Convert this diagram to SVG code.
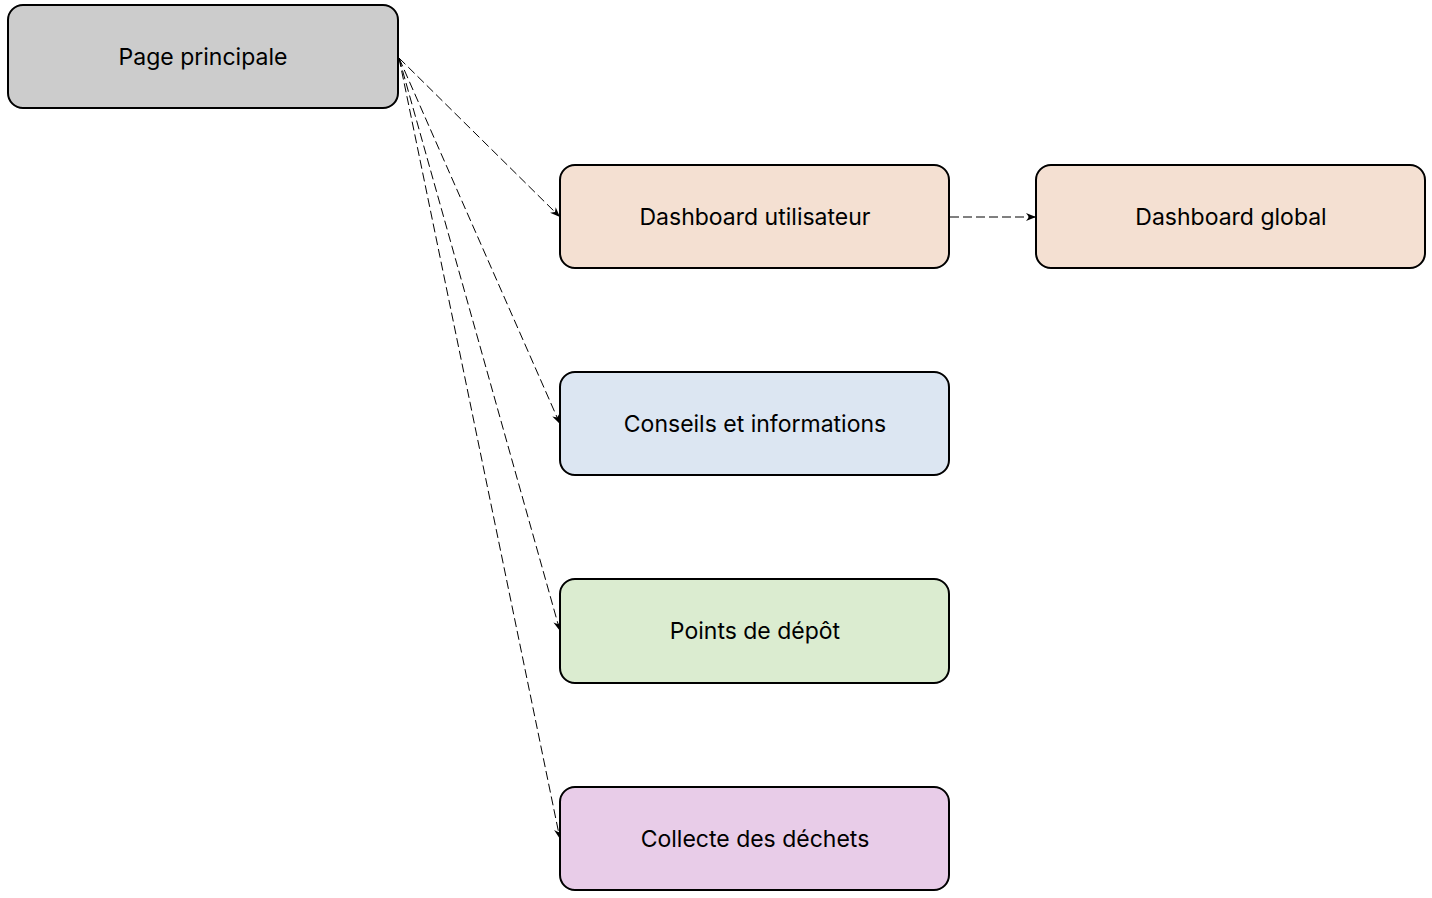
<svg xmlns="http://www.w3.org/2000/svg" width="1432" height="898" viewBox="0 0 1432 898">
<style>
.box{stroke:#000;stroke-width:2}
.lbl{font-family:Inter,"Noto Sans","Liberation Sans",sans-serif;font-size:23px;fill:#000;text-anchor:middle;dominant-baseline:central}
.edge{fill:none;stroke:#000;stroke-width:1;stroke-dasharray:9,4}
</style>
<defs>
<marker id="arr" viewBox="0 0 10 10" refX="10" refY="5" markerWidth="10" markerHeight="10" markerUnits="userSpaceOnUse" orient="auto">
<path d="M0,1 L10,5 L0,9 L3,5 Z" fill="#000"/>
</marker>
</defs>
<rect width="1432" height="898" fill="#fff"/>
<g id="connectors">
<path class="edge" d="M399,58 L560,217" marker-end="url(#arr)"/>
<path class="edge" d="M399,58 L560,424" marker-end="url(#arr)"/>
<path class="edge" d="M399,58 L560,631" marker-end="url(#arr)"/>
<path class="edge" d="M399,58 L560,839" marker-end="url(#arr)"/>
<path class="edge" d="M950,217 L1036,217" marker-end="url(#arr)"/>
</g>
<g id="node-page">
<rect class="box" x="8" y="5" width="390" height="103" rx="15" fill="#cccccc"/>
<text class="lbl" x="203" y="57">Page principale</text>
</g>
<g id="node-dash-user">
<rect class="box" x="560" y="165" width="389" height="103" rx="15" fill="#f4e0d2"/>
<text class="lbl" x="755" y="217">Dashboard utilisateur</text>
</g>
<g id="node-dash-global">
<rect class="box" x="1036" y="165" width="389" height="103" rx="15" fill="#f4e0d2"/>
<text class="lbl" x="1231" y="217">Dashboard global</text>
</g>
<g id="node-conseils">
<rect class="box" x="560" y="372" width="389" height="103" rx="15" fill="#dce6f2"/>
<text class="lbl" x="755" y="424">Conseils et informations</text>
</g>
<g id="node-points">
<rect class="box" x="560" y="579" width="389" height="104" rx="15" fill="#dbecd0"/>
<text class="lbl" x="755" y="631">Points de dépôt</text>
</g>
<g id="node-collecte">
<rect class="box" x="560" y="787" width="389" height="103" rx="15" fill="#e8cce8"/>
<text class="lbl" x="755" y="839">Collecte des déchets</text>
</g>
</svg>
